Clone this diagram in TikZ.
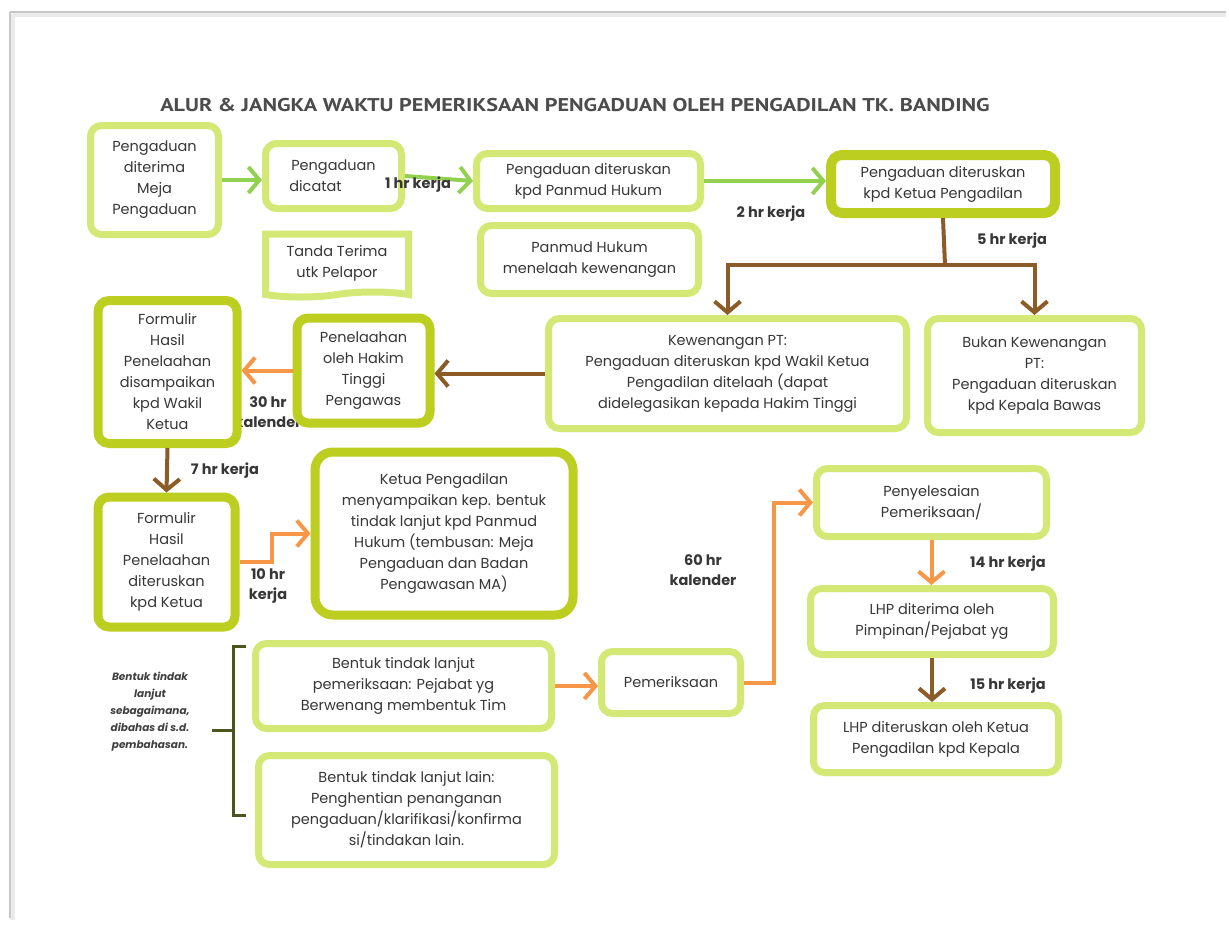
\documentclass[tikz,border=0pt]{standalone}
\usepackage{fontspec}
\setmainfont{Poppins}
\newfontfamily\titlefont{PT Sans}
\usepackage{tikz}
\usetikzlibrary{arrows.meta,shapes.symbols}
\definecolor{boxlight}{RGB}{212,232,118}
\definecolor{boxdark}{RGB}{188,206,32}
\definecolor{agreen}{RGB}{146,208,80}
\definecolor{aorange}{RGB}{247,150,70}
\definecolor{abrown}{RGB}{140,92,40}
\definecolor{braceol}{RGB}{75,85,30}
\definecolor{txt}{RGB}{55,55,55}
\tikzstyle{lbox} = [rectangle, rounded corners=11pt, draw=boxlight, line width=7pt, fill=white, align=center, text=txt, font=\fontsize{14.5}{21}\selectfont, inner sep=1pt]
\tikzstyle{dbox} = [lbox, draw=boxdark, line width=9pt]
\tikzstyle{hr} = [align=center, text=txt, font=\fontsize{14.5}{20}\selectfont\bfseries]
\tikzstyle{garrow} = [draw=agreen, line width=4pt, -{Straight Barb[length=11pt,width=26pt]}]
\tikzstyle{oarrow} = [garrow, draw=aorange]
\tikzstyle{barrow} = [garrow, draw=abrown]

\begin{document}
\begin{tikzpicture}[x=1pt, y=-1pt]
\useasboundingbox (0,0) rectangle (1229,929);
\fill[white] (0,0) rectangle (1229,929);
\draw[black!8, line width=5pt] (12,14) -- (12,920) (12,14) -- (1226,14);
\draw[black!22, line width=2pt] (10,12) -- (10,918) (10,12) -- (1226,12);

\node[font=\titlefont\fontsize{18.5}{20}\selectfont\bfseries, text=black!70] (judul) at (575,105)
  {\scalebox{1.2}[1]{ALUR \& JANGKA WAKTU PEMERIKSAAN PENGADUAN OLEH PENGADILAN TK. BANDING}};

\node (l30) [hr] at (268,412) {30 hr\\kalender};

\node (terima) [lbox, minimum width=128pt, minimum height=109pt] at (154.5,180)
  {Pengaduan\\diterima\\Meja\\Pengaduan};
\node (catat) [lbox, minimum width=136pt, minimum height=65pt, text width=126pt] at (333.5,176)
  {Pengaduan\\dicatat\hspace*{36pt}};
\node (tanda) [tape, tape bend top=none, draw=boxlight, line width=7pt, fill=white, align=center,
  text=txt, font=\fontsize{14.5}{21}\selectfont, minimum width=143pt, minimum height=63pt] at (337,263)
  {Tanda Terima\\utk Pelapor};
\node (panmud) [lbox, minimum width=224pt, minimum height=55pt] at (588.5,181)
  {Pengaduan diteruskan\\kpd Panmud Hukum};
\node (telaah) [lbox, minimum width=218pt, minimum height=68pt] at (589.5,259.5)
  {Panmud Hukum\\menelaah kewenangan};
\node (ketua) [dbox, line width=10pt, minimum width=224pt, minimum height=58pt] at (943,184)
  {Pengaduan diteruskan\\kpd Ketua Pengadilan};
\node (wenang) [lbox, minimum width=358pt, minimum height=110pt] at (727.5,373.5)
  {Kewenangan PT:\\Pengaduan diteruskan kpd Wakil Ketua\\Pengadilan ditelaah (dapat\\didelegasikan kepada Hakim Tinggi};
\node (bukan) [lbox, minimum width=214pt, minimum height=114pt] at (1034.5,375.5)
  {Bukan Kewenangan\\PT:\\Pengaduan diteruskan\\kpd Kepala Bawas};
\node (hakim) [dbox, minimum width=133pt, minimum height=105pt] at (363.5,370.5)
  {Penelaahan\\oleh Hakim\\Tinggi\\Pengawas};
\node (form1) [dbox, minimum width=139pt, minimum height=143pt] at (167.5,372)
  {Formulir\\Hasil\\Penelaahan\\disampaikan\\kpd Wakil\\Ketua};
\node (form2) [dbox, minimum width=137pt, minimum height=130pt] at (166.5,562)
  {Formulir\\Hasil\\Penelaahan\\diteruskan\\kpd Ketua};
\node (kep) [dbox, rounded corners=18pt, minimum width=258pt, minimum height=163pt] at (444,533.5)
  {Ketua Pengadilan\\menyampaikan kep. bentuk\\tindak lanjut kpd Panmud\\Hukum (tembusan: Meja\\Pengaduan dan Badan\\Pengawasan MA)};
\node (selesai) [lbox, minimum width=230pt, minimum height=68pt] at (931.5,502.5)
  {Penyelesaian\\Pemeriksaan/};
\node (lhp1) [lbox, minimum width=243pt, minimum height=66pt] at (932,621.5)
  {LHP diterima oleh\\Pimpinan/Pejabat yg};
\node (lhp2) [lbox, minimum width=245pt, minimum height=67pt] at (936,739)
  {LHP diteruskan oleh Ketua\\Pengadilan kpd Kepala};
\node (periksa) [lbox, minimum width=139pt, minimum height=62pt] at (671,682.5)
  {Pemeriksaan};
\node (tl1) [lbox, minimum width=296pt, minimum height=85pt] at (403.5,686)
  {Bentuk tindak lanjut\\pemeriksaan: Pejabat yg\\Berwenang membentuk Tim};
\node (tl2) [lbox, minimum width=296pt, minimum height=109pt] at (406.5,810)
  {Bentuk tindak lanjut lain:\\Penghentian penanganan\\pengaduan/klarifikasi/konfirma\\si/tindakan lain.};

\node (ket) [align=center, text=black!75, font=\fontsize{10.5}{17}\selectfont\bfseries\itshape] at (150,712)
  {Bentuk tindak\\lanjut\\sebagaimana,\\dibahas di s.d.\\pembahasan.};
\draw[braceol, line width=3pt] (246,646) -- (233,646) -- (233,815) -- (246,815);
\draw[braceol, line width=3pt] (233,730) -- (212,730);

\draw[garrow] (terima.east) -- (terima.east -| catat.west);
\draw[garrow] (catat.east) -- (panmud.west);
\node (l1) [hr] at (418,185) {1 hr kerja};
\draw[garrow] (panmud.east) -- (panmud.east -| ketua.west);
\node (l2) [hr] at (771,214) {2 hr kerja};

\coordinate (j1) at (945,265);
\draw[abrown, line width=4pt] (ketua.south) -- (j1);
\draw[barrow] (j1) -| (wenang.north);
\draw[barrow] (j1) -| (bukan.north);
\node (l5) [hr] at (1012,241) {5 hr kerja};

\draw[barrow] (wenang.west) -- (wenang.west -| hakim.east);
\draw[oarrow] (hakim.west) -- (hakim.west -| form1.east);
\draw[barrow] (form1.south) -- (form2.north);
\node (l7) [hr] at (225,471) {7 hr kerja};
\draw[oarrow] (form2.east) -- ++(32,0) |- (kep.west);
\node (l10) [hr] at (268,586) {10 hr\\kerja};

\draw[oarrow] (tl1.east) -- (tl1.east -| periksa.west);
\draw[oarrow] (periksa.east) -- ++(30,0) |- (selesai.west);
\node (l60) [hr] at (703,570) {60 hr\\kalender};
\draw[oarrow] (selesai.south) -- (selesai.south |- lhp1.north);
\node (l14) [hr] at (1008,564) {14 hr kerja};
\draw[barrow] (lhp1.south) -- (lhp1.south |- lhp2.north);
\node (l15) [hr] at (1008,686) {15 hr kerja};
\end{tikzpicture}
\end{document}
